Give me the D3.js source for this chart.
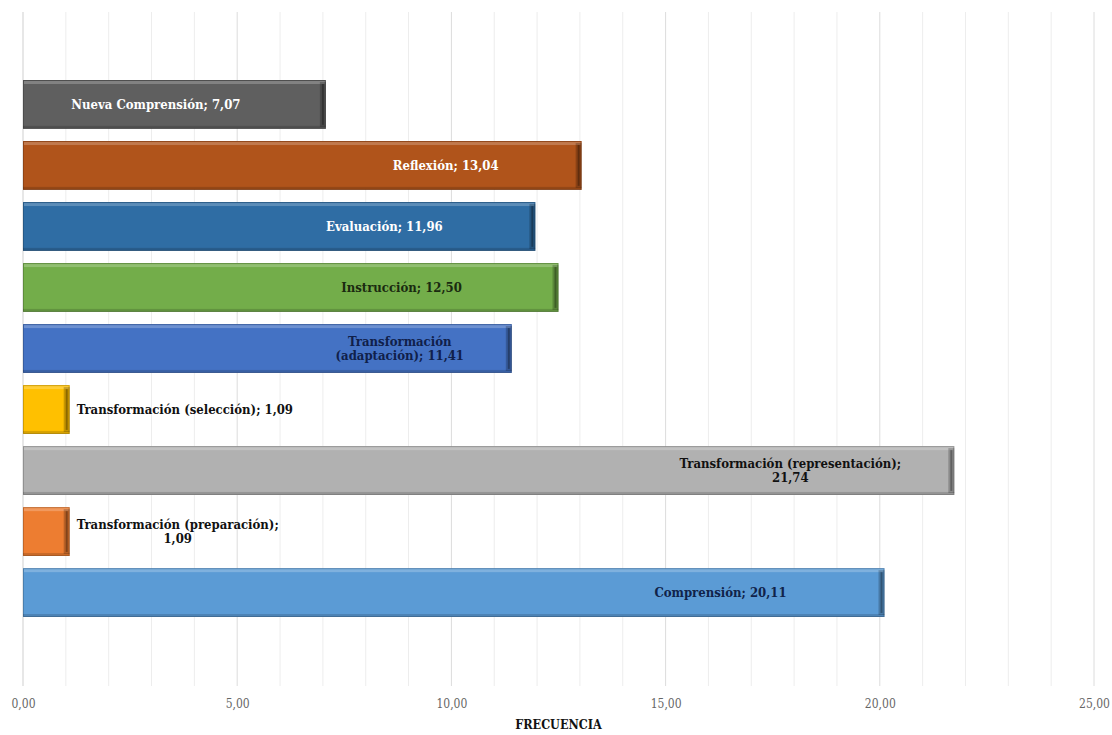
<!DOCTYPE html>
<html>
<head>
<meta charset="utf-8">
<script src="https://cdn.jsdelivr.net/npm/d3@7"></script>
<style>
  html, body { margin: 0; padding: 0; background: #fff; }
  svg { display: block; }
  .serif { font-family: "DejaVu Serif Condensed", "DejaVu Serif", "Liberation Serif", serif; font-stretch: condensed; }
</style>
</head>
<body>
<svg id="chart" width="1112" height="735"></svg>
<script>
// Categories (top to bottom) and their frequencies
const categories = [
  "Nueva Comprensión",
  "Reflexión",
  "Evaluación",
  "Instrucción",
  "Transformación (adaptación)",
  "Transformación (selección)",
  "Transformación (representación)",
  "Transformación (preparación)",
  "Comprensión"
];
const values = [7.07, 13.04, 11.96, 12.50, 11.41, 1.09, 21.74, 1.09, 20.11];
const barColors = ["#5f5f5f", "#b0541b", "#2f6da4", "#73ad4a", "#4472c4", "#ffc000", "#b1b1b1", "#ed7d31", "#5b9bd5"];
const labelColors = ["#ffffff", "#ffffff", "#ffffff", "#1a2a10", "#10204a", "#111111", "#111111", "#111111", "#10234a"];
// Label lines (data labels read "category; value")
const labelLines = [
  ["Nueva Comprensión; 7,07"],
  ["Reflexión; 13,04"],
  ["Evaluación; 11,96"],
  ["Instrucción; 12,50"],
  ["Transformación", "(adaptación); 11,41"],
  ["Transformación (selección); 1,09"],
  ["Transformación (representación);", "21,74"],
  ["Transformación (preparación);", "1,09"],
  ["Comprensión; 20,11"]
];
const xTicks = [0, 5, 10, 15, 20, 25];
const axisTitle = "FRECUENCIA";

// ---- layout ----
const svg = d3.select("#chart");
const left = 23, right = 1094, gridTop = 12, gridBottom = 686;

const x = d3.scaleLinear().domain([0, 25]).range([left, right]);
const y = d3.scaleBand().domain(categories).range([19, 678]).paddingInner(0.2).paddingOuter(1);

// label placement relative to the bar end (px), "outside" for the short bars
const labelShift = [-170, -136, -151, -157, -112, null, -164, null, -164];

const fmt = v => d3.format(".2f")(v).replace(".", ",");

// minor gridlines every unit, major every 5
const grid = svg.append("g");
grid.selectAll("line.minor")
  .data(d3.range(1, 26).filter(v => v % 5 !== 0))
  .join("line")
  .attr("x1", d => x(d)).attr("x2", d => x(d))
  .attr("y1", gridTop).attr("y2", gridBottom)
  .attr("stroke", "#ededed").attr("stroke-width", 1);
grid.selectAll("line.major")
  .data(xTicks)
  .join("line")
  .attr("x1", d => x(d)).attr("x2", d => x(d))
  .attr("y1", gridTop).attr("y2", gridBottom)
  .attr("stroke", d => d === 0 ? "#cfcfcf" : "#dcdcdc").attr("stroke-width", 1);

// x axis labels
const axis = d3.axisBottom(x).tickValues(xTicks).tickFormat(fmt).tickSize(0).tickPadding(0);
const ax = svg.append("g").attr("transform", `translate(0,${gridBottom + 13})`).call(axis);
ax.select(".domain").remove();
ax.attr("font-family", null).attr("font-size", null);
ax.selectAll("text")
  .attr("class", "serif")
  .attr("font-size", 12)
  .attr("fill", "#666");

svg.append("text")
  .attr("class", "serif")
  .attr("x", x(12.5)).attr("y", 729)
  .attr("text-anchor", "middle")
  .attr("font-weight", "bold")
  .attr("font-size", 12.5)
  .attr("fill", "#111")
  .text(axisTitle);

// bars with a bevelled look
const bars = svg.append("g").selectAll("g.bar")
  .data(categories.map((c, i) => ({ c, v: values[i], i })))
  .join("g").attr("class", "bar");

bars.append("rect")
  .attr("x", x(0)).attr("y", d => y(d.c))
  .attr("width", d => x(d.v) - x(0)).attr("height", y.bandwidth())
  .attr("fill", d => barColors[d.i]);
// top highlight
bars.append("rect")
  .attr("x", x(0) + 1).attr("y", d => y(d.c) + 1)
  .attr("width", d => Math.max(0, x(d.v) - x(0) - 2)).attr("height", 3)
  .attr("fill", "#fff").attr("opacity", 0.22);
// bottom shade
bars.append("rect")
  .attr("x", x(0)).attr("y", d => y(d.c) + y.bandwidth() - 3)
  .attr("width", d => x(d.v) - x(0)).attr("height", 3)
  .attr("fill", "#000").attr("opacity", 0.15);
// right edge bevel
bars.append("rect")
  .attr("x", d => x(d.v) - 6).attr("y", d => y(d.c) + 2)
  .attr("width", 6).attr("height", y.bandwidth() - 4)
  .attr("fill", "#000").attr("opacity", 0.22);
bars.append("rect")
  .attr("x", d => x(d.v) - 4).attr("y", d => y(d.c) + 4)
  .attr("width", 2).attr("height", y.bandwidth() - 8)
  .attr("fill", "#000").attr("opacity", 0.3);
// thin outline
bars.append("rect")
  .attr("x", x(0) + 0.5).attr("y", d => y(d.c) + 0.5)
  .attr("width", d => x(d.v) - x(0) - 1).attr("height", y.bandwidth() - 1)
  .attr("fill", "none").attr("stroke", "#000").attr("stroke-opacity", 0.18);

// data labels
const lineH = 14;
const labelSize = 13;
bars.each(function (d) {
  const g = d3.select(this);
  const lines = labelLines[d.i];
  const cy = y(d.c) + y.bandwidth() / 2;
  const outside = labelShift[d.i] === null;
  const t = g.append("text")
    .attr("class", "serif")
    .attr("font-weight", "bold")
    .attr("font-size", labelSize)
    .attr("fill", labelColors[d.i])
    .attr("text-anchor", "middle");
  let cx;
  if (outside) {
    // centre the block beside the bar end, left edge about 7px after it
    const tmp = g.append("text")
      .attr("class", "serif")
      .attr("font-weight", "bold").attr("font-size", labelSize)
      .text(lines[0]);
    const w = tmp.node().getComputedTextLength();
    tmp.remove();
    cx = x(d.v) + 7 + w / 2;
  } else {
    cx = x(d.v) + labelShift[d.i];
  }
  const y0 = cy - (lines.length - 1) * lineH / 2;
  lines.forEach((s, k) => {
    t.append("tspan")
      .attr("x", cx).attr("y", y0 + k * lineH)
      .attr("dy", "0.35em")
      .text(s);
  });
});
</script>
</body>
</html>
